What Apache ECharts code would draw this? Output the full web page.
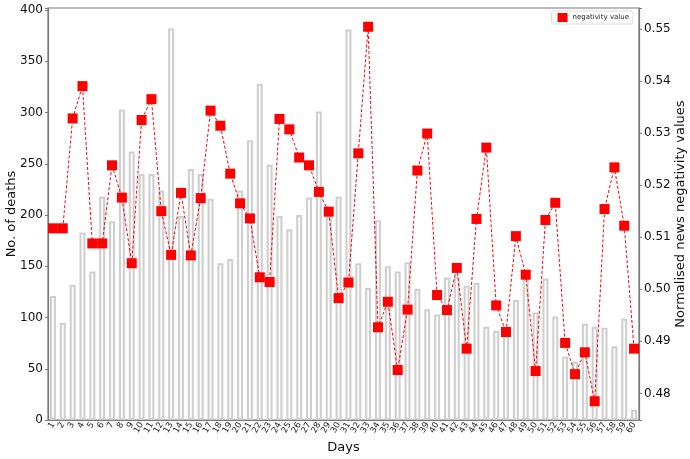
<!DOCTYPE html>
<html>
<head>
<meta charset="utf-8">
<script src="https://cdn.jsdelivr.net/npm/echarts@6/dist/echarts.min.js"></script>
<style>html,body{margin:0;padding:0;background:#fff}#c{width:690px;height:459px}</style>
</head>
<body>
<div id="c"></div>
<script>
const days = Array.from({length: 60}, (_, i) => String(i + 1));
const deaths = [121, 95, 132, 183, 145, 218, 194, 303, 262, 240,
  240, 224, 382, 199, 245, 240, 216, 153, 157, 224,
  273, 328, 249, 199, 186, 200, 217, 301, 199, 218,
  381, 153, 129, 195, 150, 145, 154, 128, 108, 103,
  139, 140, 131, 134, 91, 87, 91, 117, 142, 105,
  138, 101, 62, 57, 94, 91, 90, 72, 99, 10];
const negativity = [0.5117, 0.5117, 0.5328, 0.5390, 0.5088, 0.5088, 0.5238, 0.5176, 0.5050, 0.5325,
  0.5365, 0.5150, 0.5066, 0.5185, 0.5065, 0.5175, 0.5343, 0.5314, 0.5222, 0.5165,
  0.5136, 0.5023, 0.5014, 0.5327, 0.5307, 0.5253, 0.5238, 0.5187, 0.5149, 0.4983,
  0.5013, 0.5261, 0.5504, 0.4927, 0.4976, 0.4845, 0.4961, 0.5228, 0.5299, 0.4989,
  0.4960, 0.5041, 0.4886, 0.5135, 0.5272, 0.4969, 0.4918, 0.5102, 0.5028, 0.4843,
  0.5133, 0.5166, 0.4897, 0.4837, 0.4879, 0.4785, 0.5154, 0.5234, 0.5122, 0.4886];

const FONT = 'DejaVu Sans';
const AX = '#7a7a7a';
const chart = echarts.init(document.getElementById('c'), null, {renderer: 'canvas'});
chart.setOption({
  animation: false,
  textStyle: {fontFamily: FONT},
  grid: {left: 48, right: 51, top: 8, bottom: 39, show: true, borderColor: AX, borderWidth: 1.2,
    containLabel: false, outerBoundsMode: 'none'},
  legend: {
    right: 57, top: 11,
    data: [{name: 'negativity value', icon: 'rect'}],
    itemWidth: 10, itemHeight: 9, itemGap: 4,
    textStyle: {fontSize: 7, fontFamily: FONT, color: '#222'},
    borderColor: '#ddd', borderWidth: 1, borderRadius: 2, padding: [2, 4, 2, 6],
    backgroundColor: '#fff'
  },
  xAxis: {
    type: 'category', data: days, boundaryGap: true,
    name: 'Days', nameLocation: 'middle', nameGap: 21, nameMoveOverlap: false,
    nameTextStyle: {fontSize: 13, fontFamily: FONT, color: '#111'},
    axisLine: {lineStyle: {color: AX, width: 1.2}},
    axisTick: {alignWithLabel: true, length: 3, lineStyle: {color: AX}},
    axisLabel: {interval: 0, rotate: 60, fontSize: 8.5, margin: 3, color: '#222', fontFamily: FONT}
  },
  yAxis: [{
    type: 'value', min: 0, max: 402, interval: 50,
    name: 'No. of deaths', nameLocation: 'middle', nameGap: 30, nameMoveOverlap: false,
    nameTextStyle: {fontSize: 13, fontFamily: FONT, color: '#111'},
    axisLine: {show: true, lineStyle: {color: AX, width: 1.2}},
    axisTick: {show: true, length: 3, lineStyle: {color: AX}},
    splitLine: {show: false},
    axisLabel: {fontSize: 12, color: '#111', margin: 5, fontFamily: FONT,
      formatter: v => (v % 50 === 0 ? String(v) : '')}
  }, {
    type: 'value', min: 0.4749, max: 0.554, splitNumber: 8,
    name: 'Normalised news negativity values', nameLocation: 'middle', nameGap: 35, nameMoveOverlap: false,
    nameTextStyle: {fontSize: 13, fontFamily: FONT, color: '#111'},
    axisLine: {show: true, lineStyle: {color: AX, width: 1.2}},
    axisTick: {show: true, length: 3, lineStyle: {color: AX}},
    splitLine: {show: false},
    axisLabel: {fontSize: 12, color: '#111', margin: 5, fontFamily: FONT,
      formatter: v => {
        const r = Math.round(v * 100) / 100;
        return Math.abs(r - v) < 1e-6 ? r.toFixed(2) : '';
      }}
  }],
  series: [{
    name: 'deaths', type: 'bar', yAxisIndex: 0, data: deaths, barWidth: 6,
    itemStyle: {color: '#ffffff', borderColor: '#cfcfcf', borderWidth: 2.1}
  }, {
    name: 'negativity value', type: 'line', yAxisIndex: 1, data: negativity,
    symbol: 'rect', symbolSize: 10,
    lineStyle: {color: '#ff0000', width: 1, type: [3, 2]},
    itemStyle: {color: '#ff0000'}, z: 5
  }]
});
</script>
</body>
</html>
